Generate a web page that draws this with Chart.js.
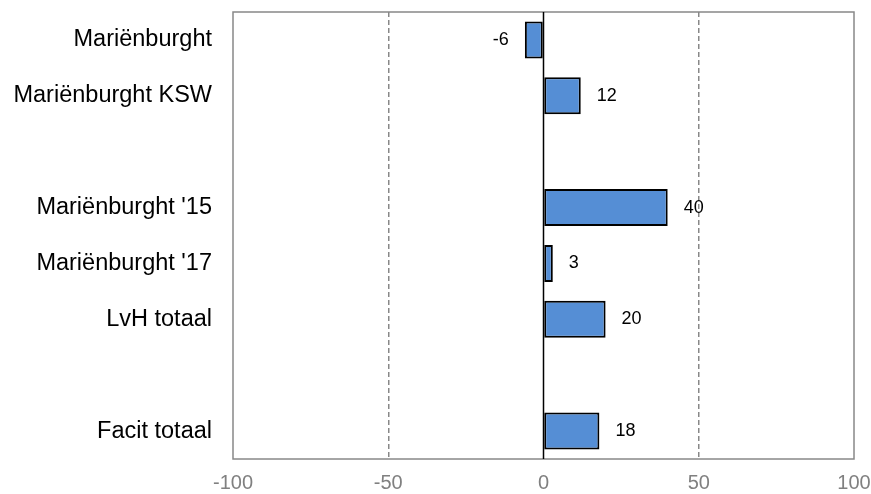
<!DOCTYPE html>
<html>
<head>
<meta charset="utf-8">
<script src="https://cdn.jsdelivr.net/npm/chart.js@4"></script>
<style>
  html, body { margin: 0; padding: 0; background: #fff; }
  #wrap { width: 871px; height: 494px; }
</style>
</head>
<body>
<div id="wrap"><canvas id="chart" width="871" height="494"></canvas></div>
<script>
// categorieën (lege rijen = witruimte tussen groepen)
const labels = ['Mariënburght', 'Mariënburght KSW', '', "Mariënburght '15", "Mariënburght '17", 'LvH totaal', '', 'Facit totaal'];
const values = [-6, 12, null, 40, 3, 20, null, 18];
const xTicks = [-100, -50, 0, 50, 100];

const FONT = '"Liberation Sans", Arial, sans-serif';

// kader + nullijn + waardelabels
const extras = {
    id: 'extras',
    afterDatasetsDraw(chart) {
        const { ctx, chartArea: a } = chart;
        const x = chart.scales.x;
        ctx.save();
        ctx.strokeStyle = '#888';
        ctx.lineWidth = 1.5;
        ctx.strokeRect(a.left, a.top, a.right - a.left, a.bottom - a.top);
        const x0 = x.getPixelForValue(0);
        ctx.strokeStyle = '#000';
        ctx.lineWidth = 1.5;
        ctx.beginPath();
        ctx.moveTo(x0, a.top);
        ctx.lineTo(x0, a.bottom);
        ctx.stroke();

        ctx.fillStyle = '#000';
        ctx.font = '18px ' + FONT;
        ctx.textBaseline = 'middle';
        const meta = chart.getDatasetMeta(0);
        meta.data.forEach((bar, i) => {
            const v = values[i];
            if (v === null) return;
            if (v < 0) {
                ctx.textAlign = 'right';
                ctx.fillText(String(v), bar.x - 16, bar.y);
            } else {
                ctx.textAlign = 'left';
                ctx.fillText(String(v), bar.x + 16, bar.y);
            }
        });
        ctx.restore();
    }
};

new Chart(document.getElementById('chart').getContext('2d'), {
    type: 'bar',
    data: {
        labels: labels,
        datasets: [{
            data: values,
            backgroundColor: '#558ed5',
            borderColor: '#000',
            borderWidth: 2,
            borderSkipped: false,
            categoryPercentage: 1,
            barPercentage: 0.66
        }]
    },
    options: {
        indexAxis: 'y',
        responsive: false,
        animation: false,
        layout: { padding: { top: 12, right: 17, left: 0, bottom: 0 } },
        scales: {
            x: {
                min: -100, max: 100,
                afterBuildTicks: s => { s.ticks = xTicks.map(v => ({ value: v })); },
                afterFit: s => { s.height = 35; s.paddingLeft = 0; s.paddingRight = 0; },
                grid: {
                    color: c => (c.tick && (c.tick.value === 0 || Math.abs(c.tick.value) === 100)) ? 'transparent' : '#888',
                    lineWidth: 1.5,
                    drawTicks: false
                },
                border: { display: false, dash: [5, 3] },
                ticks: {
                    color: '#808080',
                    padding: 12,
                    font: { family: FONT, size: 20 }
                }
            },
            y: {
                afterFit: s => { s.width = 233; s.paddingTop = 0; s.paddingBottom = 0; },
                grid: { display: false },
                border: { display: false },
                ticks: {
                    color: '#000',
                    padding: 13,
                    font: { family: FONT, size: 23.5 }
                }
            }
        },
        plugins: {
            legend: { display: false },
            tooltip: { enabled: false }
        }
    },
    plugins: [extras]
});
</script>
</body>
</html>
